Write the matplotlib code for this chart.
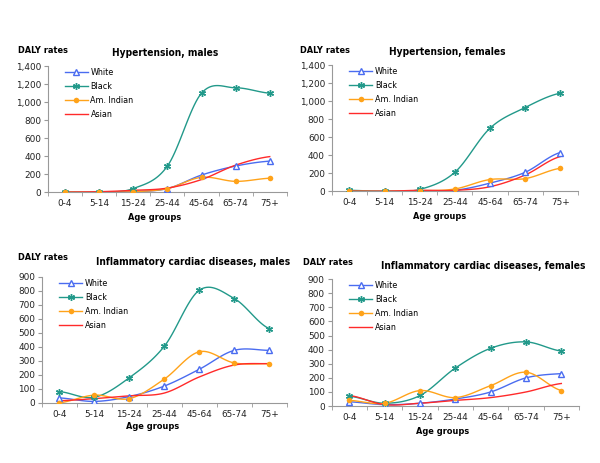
import numpy as np
import matplotlib
matplotlib.use("Agg")
import matplotlib.pyplot as plt
from matplotlib import font_manager

age_groups = ["0-4", "5-14", "15-24", "25-44", "45-64", "65-74", "75+"]
races = ["White", "Black", "Am. Indian", "Asian"]

# DALY rates
hyp_males = {
    "White": [0, 0, 5, 40, 190, 290, 345],
    "Black": [0, 0, 40, 290, 1100, 1160, 1100],
    "Am. Indian": [0, 0, 5, 40, 165, 120, 155],
    "Asian": [0, 5, 20, 45, 140, 300, 395],
}
hyp_females = {
    "White": [0, 0, 0, 10, 90, 210, 430],
    "Black": [10, 0, 20, 210, 700, 930, 1090],
    "Am. Indian": [0, 0, 5, 25, 130, 140, 255],
    "Asian": [0, 0, 10, 10, 50, 180, 385],
}
icd_males = {
    "White": [35, 10, 45, 120, 240, 375, 375],
    "Black": [80, 40, 180, 405, 805, 745, 530],
    "Am. Indian": [0, 55, 30, 170, 365, 285, 280],
    "Asian": [15, 30, 50, 70, 185, 270, 280],
}
icd_females = {
    "White": [30, 10, 20, 50, 100, 200, 230],
    "Black": [70, 20, 75, 270, 410, 455, 390],
    "Am. Indian": [40, 20, 110, 60, 145, 240, 110],
    "Asian": [75, 10, 20, 40, 60, 100, 160],
}

styles = {
    "White": dict(color="#4a6cf0", marker="^", mfc="white", ms=4.5, mew=1.0),
    "Black": dict(color="#22998a", marker=(6, 2, 0), ms=5, mew=1.0),
    "Am. Indian": dict(color="#ffa31a", marker="o", ms=4, mew=0),
    "Asian": dict(color="#ff2a2a", marker=None),
}

# narrower bold face for titles if the condensed DejaVu is there
names = {f.name for f in font_manager.fontManager.ttflist}
if "DejaVu Sans Condensed" in names:
    head = dict(family="DejaVu Sans Condensed")
    tsize, lsize = 7.3, 6.6
else:
    head = dict(family="DejaVu Sans", stretch="condensed")
    tsize, lsize = 7.3, 6.6


def smooth(y, n=20):
    # Excel style smoothed line (Catmull-Rom through the points)
    y = np.asarray(y, float)
    x = np.arange(len(y), dtype=float)
    xs, ys = [], []
    for i in range(len(y) - 1):
        p0 = y[i - 1] if i > 0 else y[i]
        p3 = y[i + 2] if i + 2 < len(y) else y[i + 1]
        p1, p2 = y[i], y[i + 1]
        c1 = p1 + (p2 - p0) / 6
        c2 = p2 - (p3 - p1) / 6
        t = np.linspace(0, 1, n)
        b = (1 - t) ** 3 * p1 + 3 * (1 - t) ** 2 * t * c1 + 3 * (1 - t) * t ** 2 * c2 + t ** 3 * p2
        xs.extend(x[i] + t)
        ys.extend(b)
    return np.array(xs), np.array(ys)


panels = [
    (hyp_males, "Hypertension, males", [0.080, 0.585, 0.398, 0.272], 1400, 200,
     (0.03, 0.89), (0.275, 0.885), (0.258, 0.531)),
    (hyp_females, "Hypertension, females", [0.553, 0.587, 0.410, 0.272], 1400, 200,
     (0.50, 0.89), (0.745, 0.887), (0.732, 0.533)),
    (icd_males, "Inflammatory cardiac diseases, males", [0.070, 0.130, 0.408, 0.272], 900, 100,
     (0.03, 0.443), (0.322, 0.434), (0.255, 0.078)),
    (icd_females, "Inflammatory cardiac diseases, females", [0.553, 0.123, 0.412, 0.274], 900, 100,
     (0.505, 0.432), (0.805, 0.425), (0.737, 0.067)),
]

fig = plt.figure(figsize=(6, 4.63), dpi=100)
x = np.arange(len(age_groups))

for data, title, rect, ymax, step, ylab_pos, title_pos, xlab_pos in panels:
    ax = fig.add_axes(rect)
    for r in races:
        st = styles[r]
        xs, ys = smooth(data[r])
        ax.plot(xs, ys, color=st["color"], lw=1.0, zorder=2)
        if st["marker"] is not None:
            ax.plot(x, data[r], ls="none", marker=st["marker"], color=st["color"],
                    mfc=st.get("mfc", st["color"]), mec=st["color"], ms=st["ms"],
                    mew=st["mew"], zorder=3)
    handles = []
    for r in races:
        st = styles[r]
        h, = ax.plot([], [], color=st["color"], lw=1.0, marker=st["marker"],
                     mfc=st.get("mfc", st["color"]), mec=st["color"],
                     ms=st.get("ms", 0), mew=st.get("mew", 1))
        handles.append(h)
    ax.legend(handles, races, loc="upper left", bbox_to_anchor=(0.07, 0.985),
              frameon=False, fontsize=5.8, handlelength=2.9, labelspacing=0.62,
              handletextpad=0.3, borderpad=0, borderaxespad=0)

    ax.set_xlim(-0.5, len(age_groups) - 0.5)
    ax.set_ylim(0, ymax)
    ax.set_yticks(np.arange(0, ymax + 1, step))
    ax.set_yticklabels([f"{v:,}" for v in range(0, ymax + 1, step)])
    ax.set_xticks(x)
    ax.set_xticklabels(age_groups)
    ax.set_xticks(np.arange(-0.5, len(age_groups)), minor=True)
    ax.tick_params(axis="x", which="major", length=0, pad=5, labelsize=6.4, colors="#222222")
    ax.tick_params(axis="x", which="minor", length=3, color="#999999")
    ax.tick_params(axis="y", length=3, color="#999999", labelsize=6.4, pad=2, labelcolor="#222222")
    for s in ["top", "right"]:
        ax.spines[s].set_visible(False)
    for s in ["left", "bottom"]:
        ax.spines[s].set_color("#999999")
        ax.spines[s].set_linewidth(0.8)

    fig.text(*ylab_pos, "DALY rates", fontsize=lsize, fontweight="bold", ha="left", va="center", **head)
    fig.text(*title_pos, title, fontsize=tsize, fontweight="bold", ha="center", va="center", **head)
    fig.text(*xlab_pos, "Age groups", fontsize=lsize, fontweight="bold", ha="center", va="center", **head)

fig.savefig("out.png", dpi=100)
